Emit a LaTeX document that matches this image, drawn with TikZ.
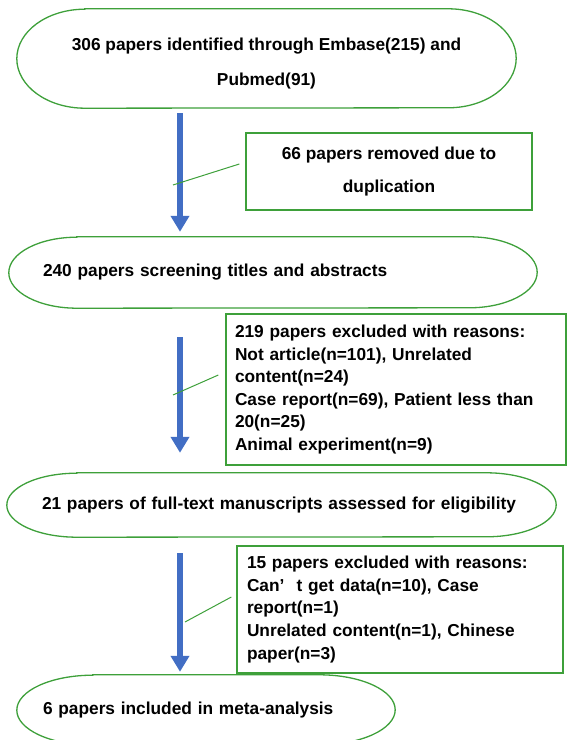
\documentclass[tikz,border=0pt]{standalone}
\usepackage{fontspec}
\setmainfont{Liberation Sans}
\usetikzlibrary{arrows.meta}

\definecolor{boxgreen}{RGB}{62,160,58}
\definecolor{flowblue}{RGB}{66,110,196}

\tikzset{
 oval/.style={inner sep=0pt, align=left, font=\bfseries\fontsize{17.3}{22.6}\selectfont},
 note/.style={draw=boxgreen, line width=1.3pt, inner sep=0pt, align=left,
   font=\bfseries\fontsize{17.3}{22.6}\selectfont},
 rim/.style={draw=boxgreen, line width=1.3pt},
 flow/.style={draw=flowblue, line width=6pt, -{Triangle[width=18pt,length=16pt]}},
 leader/.style={draw=boxgreen, line width=1pt}
}

% outline of an oval node: name, x radius, y radius
\newcommand\ovalrim[3]{
 \draw[rim] ([xshift=#2]#1.north west) -- ([xshift=-#2]#1.north east)
  arc[start angle=90, end angle=-90, x radius=#2, y radius=#3]
  -- ([xshift=#2]#1.south west)
  arc[start angle=270, end angle=90, x radius=#2, y radius=#3] -- cycle;
}

\begin{document}
\begin{tikzpicture}[x=1pt,y=1pt]
\useasboundingbox (0,0) rectangle (569,740);

\coordinate (ax) at (180,0);

% main column
\node[oval, minimum width=499pt, minimum height=99pt, align=center,
  font=\bfseries\fontsize{17.3}{35}\selectfont] (id) at (266.5,681.5)
  {\rule{0pt}{22pt}306 papers identified through Embase(215) and\\Pubmed(91)};
\ovalrim{id}{68pt}{49.5pt}

\node[oval, minimum width=528pt, minimum height=71pt, text width=460pt] (scr) at (273,467.5)
  {240 papers screening titles and abstracts};
\ovalrim{scr}{68pt}{35.5pt}

\node[oval, minimum width=549pt, minimum height=64pt, text width=479pt] (full) at (281.5,235)
  {21 papers of full-text manuscripts assessed for eligibility};
\ovalrim{full}{70pt}{32pt}

\node[oval, minimum width=378pt, minimum height=70pt, text width=326pt] (inc) at (206,30)
  {6 papers included in meta-analysis};
\ovalrim{inc}{76pt}{35pt}

% side boxes
\node[note, minimum width=286pt, minimum height=77pt, align=center,
  font=\bfseries\fontsize{17.3}{33}\selectfont] (rm1) at (389,568.5)
  {66 papers removed due to\\duplication};

\node[note, minimum width=340pt, minimum height=151pt, text width=322pt] (ex1) at (396,350.5)
  {219 papers excluded with reasons:\\
   Not article(n=101), Unrelated\\
   content(n=24)\\
   Case report(n=69), Patient less than\\
   20(n=25)\\
   Animal experiment(n=9)};

\node[note, minimum width=326pt, minimum height=127pt, text width=306pt] (ex2) at (400,130.5)
  {15 papers excluded with reasons:\\
   Can’\hspace{0.7em}t get data(n=10), Case\\
   report(n=1)\\
   Unrelated content(n=1), Chinese\\
   paper(n=3)};

% arrows
\draw[flow, shorten <=5pt, shorten >=5pt] (id.south -| ax) -- (scr.north -| ax);
\draw[flow, shorten <=29pt, shorten >=20pt] (scr.south -| ax) -- (full.north -| ax);
\draw[flow, shorten <=16pt, shorten >=3pt] (full.south -| ax) -- (inc.north -| ax);

% leaders
\coordinate (d1) at (173,555);
\coordinate (d2) at (173,345);
\coordinate (d3) at (185,118);
\draw[leader] (d1) -- ([shift={(-6,7.5)}]rm1.west);
\draw[leader] (d2) -- ([shift={(-7,14.5)}]ex1.west);
\draw[leader] (d3) -- ([shift={(-5,12.5)}]ex2.west);

\end{tikzpicture}
\end{document}
